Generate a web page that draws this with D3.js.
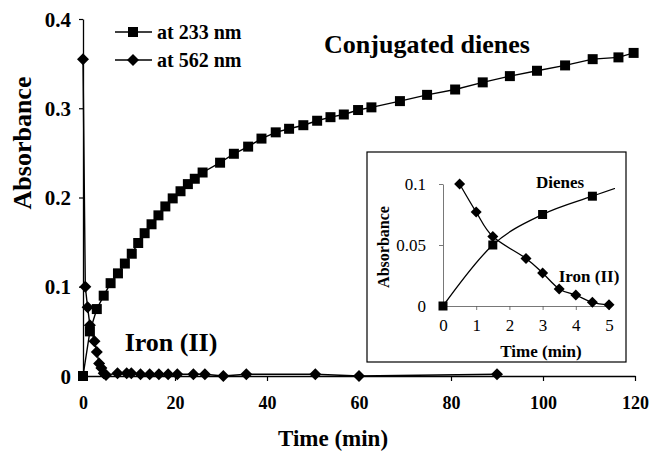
<!DOCTYPE html>
<html>
<head>
<meta charset="utf-8">
<script src="https://cdn.jsdelivr.net/npm/d3@7/dist/d3.min.js"></script>
<style>
  html, body { margin: 0; padding: 0; background: #fff; }
  svg { display: block; font-family: "Liberation Serif", "Times New Roman", serif; }
</style>
</head>
<body>
<svg id="chart" width="649" height="457"></svg>
<script>
// Conjugated dienes, absorbance at 233 nm
const dieneTime = [0, 1.5, 3, 4.5, 6, 7.6, 9.1, 10.6, 12, 13.4, 14.9, 16.4, 17.9, 19.5, 21.2, 22.8, 24.3, 26,
  29.8, 32.8, 35.9, 38.8, 41.9, 44.8, 47.9, 50.9, 53.8, 56.7, 59.8, 62.7, 68.9, 74.8, 80.9, 86.9, 92.8, 98.7,
  104.8, 110.8, 116.4, 119.7];
const dieneAbs = [0, 0.05, 0.075, 0.09, 0.104, 0.115, 0.126, 0.137, 0.149, 0.160, 0.170, 0.180, 0.190, 0.199,
  0.207, 0.215, 0.221, 0.228, 0.239, 0.249, 0.257, 0.266, 0.273, 0.277, 0.281, 0.286, 0.290, 0.293, 0.298,
  0.301, 0.308, 0.315, 0.321, 0.329, 0.336, 0.342, 0.348, 0.355, 0.357, 0.362];

// Iron (II), absorbance at 562 nm
const ironTime = [0, 0.5, 1, 1.5, 2.5, 3, 3.5, 4, 4.5, 5, 7.5, 9.5, 10.5, 12.5, 14.5, 16.5, 18.5, 20.5, 24,
  26.5, 30.5, 35.5, 50.5, 60, 90];
const ironAbs = [0.355, 0.1, 0.077, 0.057, 0.039, 0.027, 0.014, 0.009, 0.003, 0.001, 0.003, 0.003, 0.003,
  0.002, 0.002, 0.002, 0.002, 0.002, 0.002, 0.002, 0, 0.002, 0.002, 0, 0.002];

const xTicks = [0, 20, 40, 60, 80, 100, 120];
const yTicks = [0, 0.1, 0.2, 0.3, 0.4];
const insetXTicks = [0, 1, 2, 3, 4, 5];
const insetYTicks = [0, 0.05, 0.1];
const legendLabels = ["at 233 nm", "at 562 nm"];

const svg = d3.select("#chart");

const dienes = dieneTime.map((t, i) => ({ t, a: dieneAbs[i] }));
const iron = ironTime.map((t, i) => ({ t, a: ironAbs[i] }));

function squarePath(h) { return `M${-h},${-h}H${h}V${h}H${-h}Z`; }
function diamondPath(h) { return `M0,${-h}L${h},0L0,${h}L${-h},0Z`; }

// ---------- main chart ----------
const x = d3.scaleLinear().domain([0, 120]).range([83, 635]);
const y = d3.scaleLinear().domain([0, 0.4]).range([376, 19]);

const yAxis = svg.append("g")
  .attr("transform", `translate(${x(0)},0)`)
  .call(d3.axisLeft(y).tickValues(yTicks).tickSize(4).tickSizeOuter(0).tickPadding(8)
    .tickFormat(d => d === 0 ? "0" : d3.format(".1f")(d)));
yAxis.selectAll("text").attr("font-size", 21).attr("font-weight", "bold")
  .attr("font-family", "Liberation Serif").attr("dy", "0.34em");

const xAxis = svg.append("g")
  .attr("transform", `translate(0,${y(0)})`)
  .call(d3.axisBottom(x).tickValues(xTicks).tickSize(5).tickSizeOuter(0).tickPadding(15)
    .tickFormat(d3.format("d")));
xAxis.selectAll("text").attr("font-size", 18).attr("font-weight", "bold")
  .attr("font-family", "Liberation Serif");

svg.selectAll(".domain").attr("stroke", "#000").attr("stroke-width", 1.3);
svg.selectAll(".tick line").attr("stroke", "#000").attr("stroke-width", 1.2);

const line = d3.line().x(d => x(d.t)).y(d => y(d.a));

svg.append("path").datum(iron).attr("d", line)
  .attr("fill", "none").attr("stroke", "#000").attr("stroke-width", 1.4);
svg.append("path").datum(dienes).attr("d", line)
  .attr("fill", "none").attr("stroke", "#000").attr("stroke-width", 1.4);

svg.append("g").selectAll("path").data(dienes).join("path")
  .attr("d", squarePath(5)).attr("transform", d => `translate(${x(d.t)},${y(d.a)})`).attr("fill", "#000");
svg.append("g").selectAll("path").data(iron).join("path")
  .attr("d", diamondPath(6)).attr("transform", d => `translate(${x(d.t)},${y(d.a)})`).attr("fill", "#000");

// axis titles
svg.append("text").attr("transform", "translate(31,143) rotate(-90)")
  .attr("text-anchor", "middle").attr("font-size", 26).attr("font-weight", "bold").text("Absorbance");
svg.append("text").attr("x", 333).attr("y", 446)
  .attr("text-anchor", "middle").attr("font-size", 23).attr("font-weight", "bold").text("Time (min)");

// series annotations
svg.append("text").attr("x", 427).attr("y", 53)
  .attr("text-anchor", "middle").attr("font-size", 26).attr("font-weight", "bold").text("Conjugated dienes");
svg.append("text").attr("x", 171).attr("y", 351)
  .attr("text-anchor", "middle").attr("font-size", 26).attr("font-weight", "bold").text("Iron (II)");

// legend
const legend = svg.append("g");
[0, 1].forEach(i => {
  const ly = 32 + i * 28;
  legend.append("line").attr("x1", 115).attr("x2", 152).attr("y1", ly).attr("y2", ly)
    .attr("stroke", "#000").attr("stroke-width", 1.4);
  legend.append("path").attr("d", i === 0 ? squarePath(5) : diamondPath(6))
    .attr("transform", `translate(133,${ly})`).attr("fill", "#000");
  legend.append("text").attr("x", 157).attr("y", ly).attr("dy", "0.34em")
    .attr("font-size", 20).attr("font-weight", "bold").text(legendLabels[i]);
});

// ---------- inset: first five minutes ----------
const inset = svg.append("g");
inset.append("rect").attr("x", 367).attr("y", 152).attr("width", 259).attr("height", 210)
  .attr("fill", "#fff").attr("stroke", "#000").attr("stroke-width", 1.2);

const ix = d3.scaleLinear().domain([0, 5]).range([443, 609]);
const iy = d3.scaleLinear().domain([0, 0.1]).range([306, 184]);

const iyAxis = inset.append("g").attr("transform", `translate(${ix(0)},0)`)
  .call(d3.axisLeft(iy).tickValues(insetYTicks).tickSize(4).tickSizeOuter(0).tickPadding(13)
    .tickFormat(d => d === 0 ? "0" : String(d)));
const ixAxis = inset.append("g").attr("transform", `translate(0,${iy(0)})`)
  .call(d3.axisBottom(ix).tickValues(insetXTicks).tickSize(4).tickSizeOuter(0).tickPadding(9)
    .tickFormat(d3.format("d")));
[iyAxis, ixAxis].forEach(a => {
  a.selectAll("text").attr("font-size", 17).attr("font-family", "Liberation Serif");
  a.select(".domain").attr("stroke", "#555").attr("stroke-width", 0.8);
  a.selectAll(".tick line").attr("stroke", "#555").attr("stroke-width", 0.8);
});
iyAxis.selectAll("text").attr("dy", "0.34em");

inset.append("clipPath").attr("id", "insetClip")
  .append("rect").attr("x", 430).attr("y", 160).attr("width", 185).attr("height", 160);

const plot = inset.append("g").attr("clip-path", "url(#insetClip)");
const smooth = d3.line().x(d => ix(d.t)).y(d => iy(d.a)).curve(d3.curveCardinal.tension(0));
const dieneEarly = dienes.filter(d => d.t <= 6);
const ironEarly = iron.filter(d => d.t > 0 && d.t <= 5);

plot.append("path").datum(dieneEarly).attr("d", smooth)
  .attr("fill", "none").attr("stroke", "#000").attr("stroke-width", 1.3);
plot.append("path").datum(ironEarly).attr("d", smooth)
  .attr("fill", "none").attr("stroke", "#000").attr("stroke-width", 1.3);
plot.append("g").selectAll("path").data(dieneEarly.filter(d => d.t <= 5)).join("path")
  .attr("d", squarePath(4.5)).attr("transform", d => `translate(${ix(d.t)},${iy(d.a)})`).attr("fill", "#000");
plot.append("g").selectAll("path").data(ironEarly).join("path")
  .attr("d", diamondPath(5.5)).attr("transform", d => `translate(${ix(d.t)},${iy(d.a)})`).attr("fill", "#000");

inset.append("text").attr("transform", "translate(389,247) rotate(-90)")
  .attr("text-anchor", "middle").attr("font-size", 16).attr("font-weight", "bold").text("Absorbance");
inset.append("text").attr("x", 541).attr("y", 357)
  .attr("text-anchor", "middle").attr("font-size", 17).attr("font-weight", "bold").text("Time (min)");
inset.append("text").attr("x", 560).attr("y", 188)
  .attr("text-anchor", "middle").attr("font-size", 17).attr("font-weight", "bold").text("Dienes");
inset.append("text").attr("x", 589).attr("y", 282)
  .attr("text-anchor", "middle").attr("font-size", 17).attr("font-weight", "bold").text("Iron (II)");
</script>
</body>
</html>
